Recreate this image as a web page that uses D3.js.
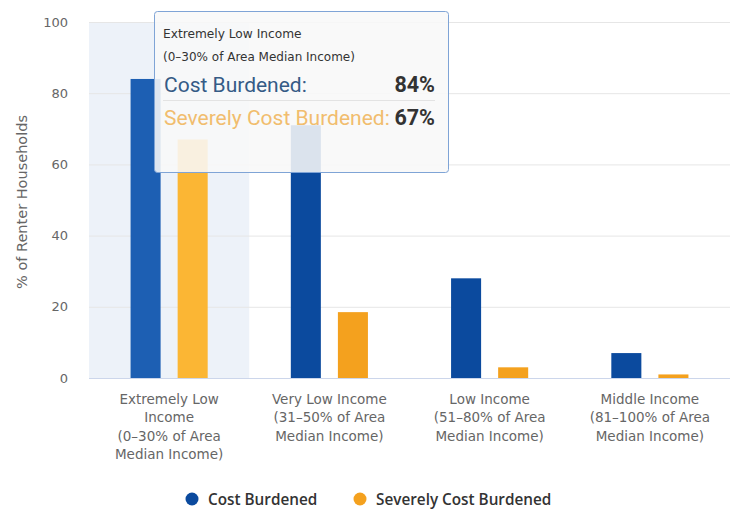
<!DOCTYPE html>
<html>
<head>
<meta charset="utf-8">
<script src="https://cdn.jsdelivr.net/npm/d3@7"></script>
<style>
  body { margin: 0; background: #fff; }
  svg { display: block; }
</style>
</head>
<body>
<div id="chart"></div>
<script>
// data
var categories = [
  ["Extremely Low", "Income", "(0\u201330% of Area", "Median Income)"],
  ["Very Low Income", "(31\u201350% of Area", "Median Income)"],
  ["Low Income", "(51\u201380% of Area", "Median Income)"],
  ["Middle Income", "(81\u2013100% of Area", "Median Income)"]
];
var seriesNames = ["Cost Burdened", "Severely Cost Burdened"];
var costBurdened = [84, 71, 28, 7];
var severelyBurdened = [67, 18.5, 3, 1];
var yTicks = [0, 20, 40, 60, 80, 100];
var tooltipTitle = ["Extremely Low Income", "(0\u201330% of Area Median Income)"];

var colors = ["#0b4a9e", "#f4a11e"];
var hoverColors = ["#1d5fb3", "#fbb634"];

var W = 734, H = 510;
var margin = {top: 22, right: 4, bottom: 132, left: 89};

var svg = d3.select("#chart").append("svg")
  .attr("width", W).attr("height", H);

var x0 = d3.scaleBand()
  .domain(d3.range(categories.length))
  .range([margin.left, W - margin.right]);

var x1 = d3.scaleBand()
  .domain(d3.range(seriesNames.length))
  .range([0, x0.bandwidth()])
  .paddingInner(0.362)
  .paddingOuter(0.883);

var y = d3.scaleLinear()
  .domain([0, 100])
  .range([H - margin.bottom, margin.top]);

// hover band on first category
svg.append("rect")
  .attr("x", x0(0)).attr("y", y(100))
  .attr("width", x0.bandwidth()).attr("height", y(0) - y(100))
  .attr("fill", "#edf2f9");

// grid
svg.append("g").selectAll("line")
  .data(yTicks.slice(1))
  .join("line")
  .attr("x1", margin.left).attr("x2", W - margin.right)
  .attr("y1", function(d) { return y(d) + 0.5; })
  .attr("y2", function(d) { return y(d) + 0.5; })
  .attr("stroke", "#e6e6e6");

// y axis labels
var yAxis = d3.axisLeft(y).tickValues(yTicks).tickSize(0).tickPadding(0);
var yg = svg.append("g")
  .attr("transform", "translate(" + (margin.left - 21) + ",0)")
  .call(yAxis);
yg.select(".domain").remove();
yg.selectAll("text")
  .attr("fill", "#666")
  .style("font-family", "DejaVu Sans")
  .style("font-size", "13px");

svg.append("text")
  .attr("transform", "translate(27," + 202 + ") rotate(-90)")
  .attr("text-anchor", "middle")
  .attr("fill", "#666")
  .style("font-family", "DejaVu Sans")
  .style("font-size", "14.5px")
  .text("% of Renter Households");

// bars
var values = [costBurdened, severelyBurdened];
var groups = svg.append("g").selectAll("g")
  .data(categories)
  .join("g")
  .attr("transform", function(d, i) { return "translate(" + x0(i) + ",0)"; });

groups.selectAll("rect")
  .data(function(d, i) { return values.map(function(v, s) { return {s: s, c: i, v: v[i]}; }); })
  .join("rect")
  .attr("x", function(d) { return x1(d.s); })
  .attr("width", x1.bandwidth())
  .attr("y", function(d) { return y(d.v); })
  .attr("height", function(d) { return y(0) - y(d.v); })
  .attr("fill", function(d) { return d.c === 0 ? hoverColors[d.s] : colors[d.s]; });

// baseline
svg.append("line")
  .attr("x1", margin.left).attr("x2", W - margin.right)
  .attr("y1", y(0) + 0.5).attr("y2", y(0) + 0.5)
  .attr("stroke", "#ccd6eb");

// x labels
var xl = svg.append("g").selectAll("text")
  .data(categories)
  .join("text")
  .attr("text-anchor", "middle")
  .attr("fill", "#666")
  .style("font-family", "DejaVu Sans")
  .style("font-size", "13.5px")
  .attr("x", function(d, i) { return x0(i) + x0.bandwidth() / 2; });
xl.selectAll("tspan")
  .data(function(d) { return d; })
  .join("tspan")
  .attr("x", function() { return d3.select(this.parentNode).attr("x"); })
  .attr("y", function(d, j) { return 404 + j * 18.3; })
  .text(function(d) { return d; });

// legend
var legend = svg.append("g").attr("transform", "translate(0," + 499 + ")");
var legX = [192, 360];
seriesNames.forEach(function(name, i) {
  legend.append("circle")
    .attr("cx", legX[i]).attr("cy", 0).attr("r", 6.5)
    .attr("fill", colors[i]);
  legend.append("text")
    .attr("x", legX[i] + 16).attr("y", 5.5)
    .attr("fill", "#333")
    .style("font-family", "Open Sans")
    .style("font-weight", "600")
    .style("font-size", "15.3px")
    .text(name);
});

// tooltip
var tip = svg.append("g").attr("transform", "translate(154,11)");
tip.append("rect")
  .attr("x", 0.5).attr("y", 0.5)
  .attr("width", 294).attr("height", 161)
  .attr("rx", 3)
  .attr("fill", "rgba(248,248,248,0.88)")
  .attr("stroke", "#7fa4d6");
tip.append("text")
  .attr("x", 9).attr("y", 27)
  .attr("fill", "#333")
  .style("font-family", "DejaVu Sans")
  .style("font-size", "12.2px")
  .text(tooltipTitle[0]);
tip.append("text")
  .attr("x", 9).attr("y", 50)
  .attr("fill", "#333")
  .style("font-family", "DejaVu Sans")
  .style("font-size", "12px")
  .text(tooltipTitle[1]);
var tipRows = [costBurdened[0], severelyBurdened[0]];
var tipColors = ["#355b86", "#f1bd6e"];
tipRows.forEach(function(v, i) {
  var yy = 81 + i * 33;
  tip.append("text")
    .attr("x", 10).attr("y", yy)
    .attr("fill", tipColors[i])
    .style("font-family", "Roboto")
    .style("font-size", "21px")
    .text(seriesNames[i] + ":");
  tip.append("text")
    .attr("x", 281).attr("y", yy)
    .attr("text-anchor", "end")
    .attr("fill", "#333")
    .style("font-family", "Roboto")
    .style("font-weight", "700")
    .style("font-size", "21.5px")
    .text(v + "%");
});
tip.append("line")
  .attr("x1", 9).attr("x2", 281)
  .attr("y1", 89.5).attr("y2", 89.5)
  .attr("stroke", "#e3e3e3");
</script>
</body>
</html>
